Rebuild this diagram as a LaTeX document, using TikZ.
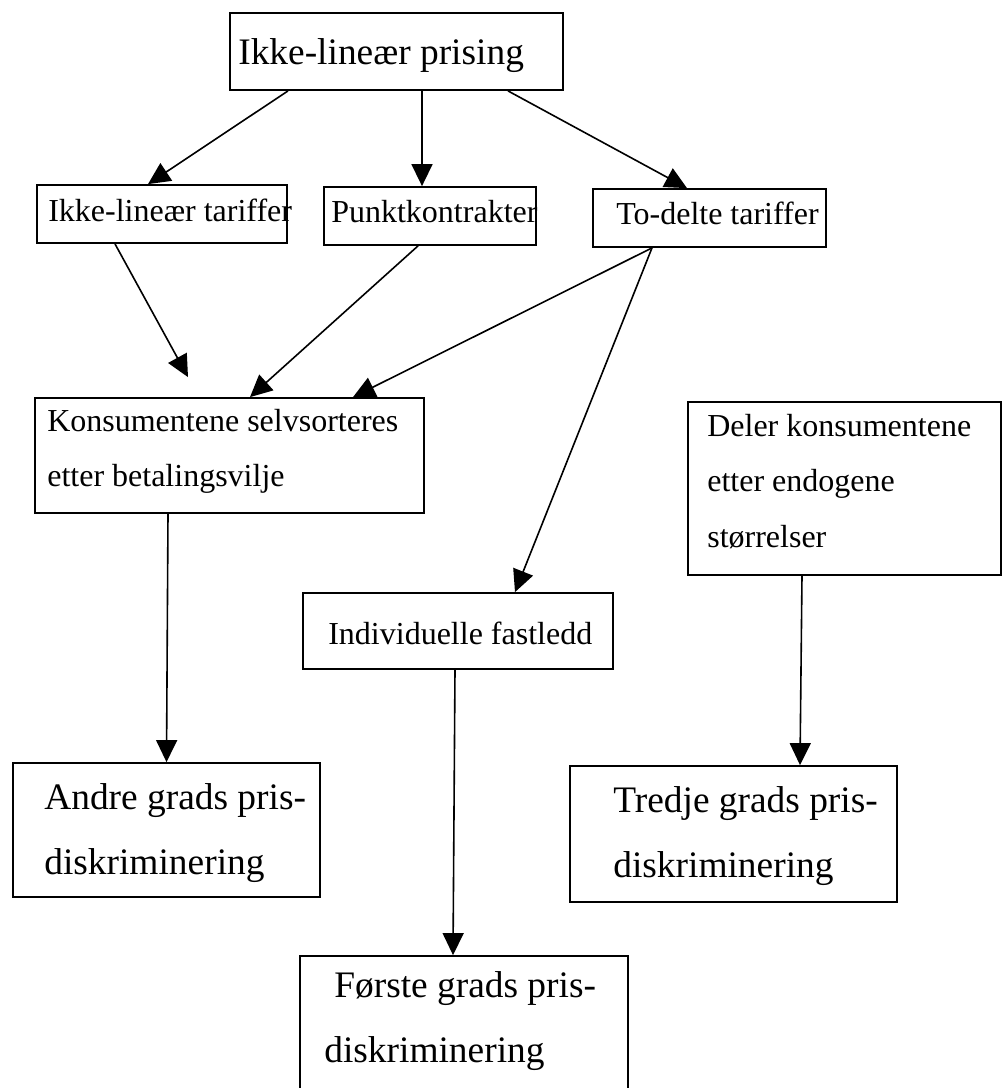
\documentclass[tikz,border=0pt]{standalone}
\usepackage{fontspec}
\setmainfont{Liberation Serif}
\usetikzlibrary{arrows.meta, calc}

\begin{document}
\begin{tikzpicture}[
    x=1pt, y=-1pt,
    box/.style={draw, line width=1.8pt, inner sep=0pt},
    smalltxt/.style={anchor=base west, inner sep=0pt, font=\fontsize{32}{55.5}\selectfont},
    bigtxt/.style={anchor=base west, inner sep=0pt, font=\fontsize{37.4}{65}\selectfont},
    arr/.style={-{Triangle[length=22pt, width=21pt]}, line width=1.6pt}
  ]
  \useasboundingbox (0,0) rectangle (1003,1088);

  % boxes
  \node[box, minimum width=333pt, minimum height=77pt]  (top)    at (396.5,51.5) {};
  \node[box, minimum width=250pt, minimum height=58pt]  (tariff) at (162,214) {};
  \node[box, minimum width=212pt, minimum height=58pt]  (punkt)  at (430,216) {};
  \node[box, minimum width=233pt, minimum height=58pt]  (todelt) at (709.5,218) {};
  \node[box, minimum width=389pt, minimum height=115pt] (konsum) at (229.5,455.5) {};
  \node[box, minimum width=313pt, minimum height=173pt] (deler)  at (844.5,488.5) {};
  \node[box, minimum width=310pt, minimum height=76pt]  (indiv)  at (458,631) {};
  \node[box, minimum width=307pt, minimum height=134pt] (andre)  at (166.5,830) {};
  \node[box, minimum width=327pt, minimum height=136pt] (tredje) at (733.5,834) {};
  \node[box, minimum width=328pt, minimum height=133pt] (forste) at (464,1022.5) {};

  % texts
  \node[bigtxt]   (toptxt)    at ([xshift=9pt, yshift=-52pt]top.north west)    {Ikke-lineær prising};
  \node[smalltxt] (tarifftxt) at ([xshift=12pt, yshift=-37pt]tariff.north west) {Ikke-lineær tariffer};
  \node[smalltxt] (punkttxt)  at ([xshift=8pt, yshift=-36pt]punkt.north west)   {Punktkontrakter};
  \node[smalltxt] (todelttxt) at ([xshift=24pt, yshift=-36pt]todelt.north west) {To-delte tariffer};
  \node[smalltxt] (konsumtxt) at ([xshift=13pt, yshift=-34pt]konsum.north west)
    {\vtop{\hbox{Konsumentene selvsorteres}\hbox{etter betalingsvilje}}};
  \node[smalltxt] (delertxt)  at ([xshift=20pt, yshift=-35pt]deler.north west)
    {\vtop{\hbox{Deler konsumentene}\hbox{etter endogene}\hbox{størrelser}}};
  \node[smalltxt] (indivtxt)  at ([xshift=26pt, yshift=-52pt]indiv.north west)  {Individuelle fastledd};
  \node[bigtxt]   (andretxt)  at ([xshift=32pt, yshift=-47pt]andre.north west)
    {\vtop{\hbox{Andre grads pris-}\hbox{diskriminering}}};
  \node[bigtxt]   (tredjetxt) at ([xshift=44pt, yshift=-47pt]tredje.north west)
    {\vtop{\hbox{Tredje grads pris-}\hbox{diskriminering}}};
  \node[bigtxt]   (forstetxt) at ([xshift=25pt, yshift=-42pt]forste.north west)
    {\vtop{\hbox{\kern10pt Første grads pris-}\hbox{diskriminering}}};

  % arrows
  \draw[arr] ([xshift=-108.5pt]top.south) -- ([xshift=-14pt]tariff.north);
  \draw[arr] ([xshift=25.5pt]top.south)   -- ([xshift=-8pt]punkt.north);
  \draw[arr] ([xshift=111.5pt]top.south)  -- ([xshift=-22.5pt]todelt.north);
  \draw[arr] ([xshift=-47pt]tariff.south) -- ([xshift=-41.5pt, yshift=20pt]konsum.north);
  \draw[arr] ([xshift=-12pt]punkt.south)  -- ([xshift=20.5pt]konsum.north);
  \draw[arr] ([xshift=-57.5pt]todelt.south) -- ([xshift=123.5pt]konsum.north);
  \draw[arr] ([xshift=-57.5pt]todelt.south) -- ([xshift=57pt]indiv.north);
  \draw[arr] ([xshift=-61.5pt]konsum.south) -- (andre.north);
  \draw[arr] ([xshift=-3pt]indiv.south)   -- ([xshift=-11pt]forste.north);
  \draw[arr] ([xshift=-42.5pt]deler.south) -- ([xshift=66.5pt]tredje.north);
\end{tikzpicture}
\end{document}
